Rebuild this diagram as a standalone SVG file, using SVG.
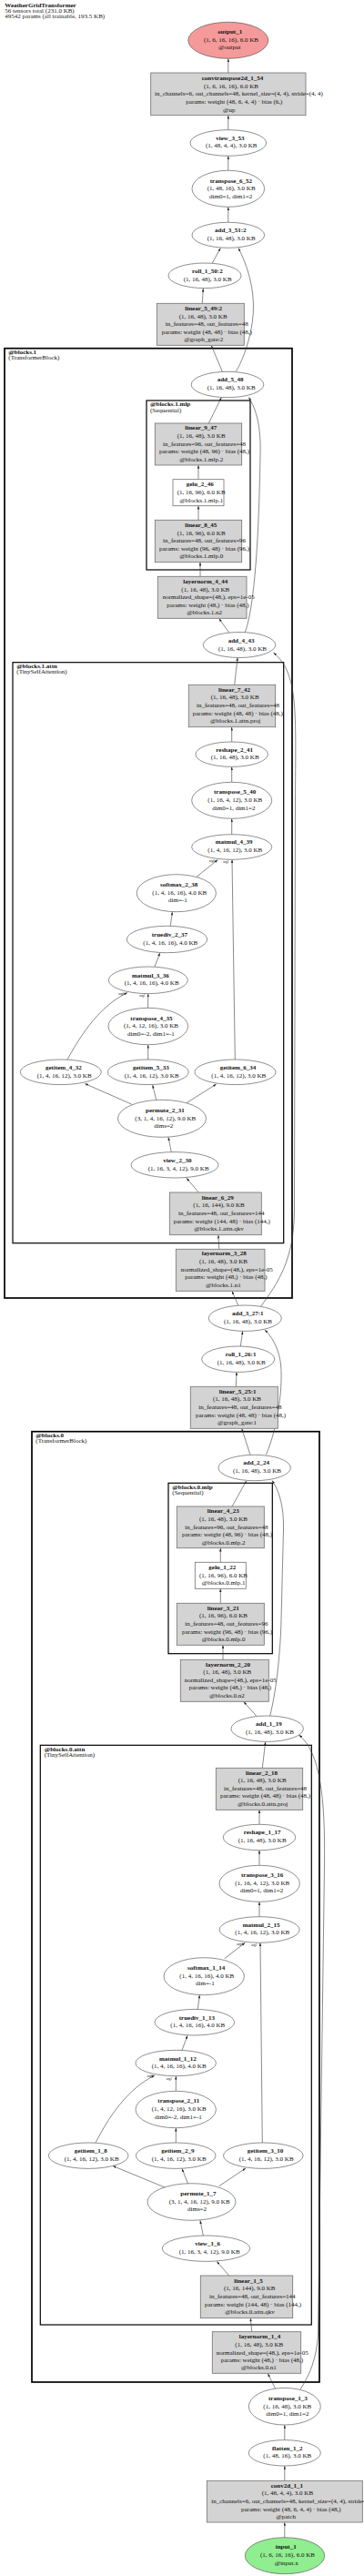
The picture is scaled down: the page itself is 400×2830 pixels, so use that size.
<svg xmlns="http://www.w3.org/2000/svg" width="400" height="2830" viewBox="0 0 400 2830">
<style>
text{font-family:"Liberation Serif","Times New Roman",serif;font-size:7px;fill:#111;dominant-baseline:central}
.b{font-weight:bold}
.h{fill:#222}
.el{fill:#fff;stroke:#444;stroke-width:0.6}
.rc{fill:#d3d3d3;stroke:#707070;stroke-width:0.8}
.rw{fill:#fff;stroke:#707070;stroke-width:0.8}
.c1{fill:none;stroke:#000;stroke-width:1.7}
.c2{fill:none;stroke:#000;stroke-width:1.2}
.e{fill:none;stroke:#3a3a3a;stroke-width:0.6;marker-end:url(#ah)}
.al{font-size:3.6px;text-anchor:middle}
</style>
<defs>
<marker id="ah" markerUnits="userSpaceOnUse" markerWidth="4" markerHeight="3" refX="3.6" refY="1.2" orient="auto">
<path d="M0,0 L3.6,1.2 L0,2.4 z" fill="#222"/>
</marker>
</defs>
<rect width="400" height="2830" fill="#fff"/>
<g id="title">
<text class="b" x="5.3" y="5.8">WeatherGridTransformer</text>
<text class="h" x="5.3" y="11.9">56 tensors total (231.0 KB)</text>
<text class="h" x="5.3" y="18">49542 params (all trainable, 193.5 KB)</text>
</g>
<g id="clusters">
<g id="cluster_blocks1"><rect class="c1" x="5" y="382.7" width="316" height="1043.3"/><text class="b" x="9.3" y="387.3">@blocks.1</text><text x="9.3" y="393.3">(TransformerBlock)</text></g>
<g id="cluster_blocks1_mlp"><rect class="c2" x="161" y="440" width="114" height="186"/><text class="b" x="165" y="444.3">@blocks.1.mlp</text><text x="165" y="450.5">(Sequential)</text></g>
<g id="cluster_blocks1_attn"><rect class="c2" x="14" y="727.7" width="297.7" height="638"/><text class="b" x="18.3" y="731.8">@blocks.1.attn</text><text x="18.3" y="738">(TinySelfAttention)</text></g>
<g id="cluster_blocks0"><rect class="c1" x="35" y="1572.7" width="316" height="1044.3"/><text class="b" x="39.3" y="1576.8">@blocks.0</text><text x="39.3" y="1583">(TransformerBlock)</text></g>
<g id="cluster_blocks0_mlp"><rect class="c2" x="185" y="1629.3" width="114.3" height="187.4"/><text class="b" x="189.3" y="1634.2">@blocks.0.mlp</text><text x="189.3" y="1640.3">(Sequential)</text></g>
<g id="cluster_blocks0_attn"><rect class="c2" x="44.3" y="1917.3" width="298" height="636.7"/><text class="b" x="48.7" y="1921.7">@blocks.0.attn</text><text x="48.7" y="1927.8">(TinySelfAttention)</text></g>
</g>
<g id="edges">
<path class="e" d="M250.8,80 L250.8,64.5"/>
<path class="e" d="M250.8,142.7 L250.8,126.9"/>
<path class="e" d="M250.8,187.3 L250.8,171.5"/>
<path class="e" d="M250.8,244.3 L250.8,227.5"/>
<path class="e" d="M233.3,289 L242.3,272.5"/>
<path class="e" d="M259.5,408 C270,390 279,360 278.5,335 C278,310 270,288 262,272.6"/>
<path class="e" d="M222.3,333.3 L223.3,317"/>
<path class="e" d="M244.3,408.2 L232.3,379.7"/>
<path class="e" d="M229.3,465 L243.3,436.8"/>
<path class="e" d="M269.3,694.8 C282,660 285,560 286,500 C287,470 282,450 273.3,436.5"/>
<path class="e" d="M218,526.7 L218,511.2"/>
<path class="e" d="M218,571.3 L218,555.9"/>
<path class="e" d="M220,633.3 L220,617.9"/>
<path class="e" d="M251.7,694.8 L240.7,679.5"/>
<path class="e" d="M257.7,752.3 L261,722.6"/>
<path class="e" d="M286.7,1435 C305,1410 323,1385 323.5,1330 L324.5,880 C325,780 328,740 300.5,717"/>
<path class="e" d="M254.7,815 L254.7,798.9"/>
<path class="e" d="M254.7,859.3 L254.7,842.5"/>
<path class="e" d="M254.7,916.7 L254.7,899.5"/>
<path class="e" d="M216,963.3 L239.3,944.5"/>
<path class="e" d="M258.3,1164 L255,944.5"/>
<path class="e" d="M187.3,1017.3 L189.3,1001.9"/>
<path class="e" d="M170,1062 L175.7,1046.9"/>
<path class="e" d="M74,1164 C90,1135 110,1105 140,1090.5"/>
<path class="e" d="M162.7,1107.3 L162.7,1091.8"/>
<path class="e" d="M162.7,1164 L162.7,1147.9"/>
<path class="e" d="M145,1213.3 L93.3,1190.5"/>
<path class="e" d="M171.7,1208.3 L167.7,1192"/>
<path class="e" d="M205,1211.7 L237.7,1191"/>
<path class="e" d="M188.3,1265.7 L185,1249.5"/>
<path class="e" d="M218.3,1310 L205,1294.2"/>
<path class="e" d="M240.7,1372.3 L240,1356.9"/>
<path class="e" d="M261.7,1434 L255,1418.5"/>
<path class="e" d="M264.3,1479 L266.7,1462.6"/>
<path class="e" d="M292.3,1598.3 C305,1570 312,1520 308,1495 C305,1478 298,1468 291,1461"/>
<path class="e" d="M259.3,1523.3 L260,1507.6"/>
<path class="e" d="M275,1598.3 L265.7,1569.5"/>
<path class="e" d="M255,1655 L270.7,1627"/>
<path class="e" d="M296.7,1885 C303,1860 308,1820 309,1780 L311.5,1680 C312,1655 307,1638 299,1626.5"/>
<path class="e" d="M242.3,1716.3 L242.3,1700.9"/>
<path class="e" d="M242.3,1761.3 L242.3,1745.5"/>
<path class="e" d="M245,1823.3 L245,1807.5"/>
<path class="e" d="M281.7,1885 L267.7,1869.5"/>
<path class="e" d="M288.3,1942.3 L291.7,1913.6"/>
<path class="e" d="M330,2625 C341,2608 348,2590 349.5,2565 L356.5,2050 C357.5,1975 352,1925 328.5,1906"/>
<path class="e" d="M285,2004.3 L285,1988.5"/>
<path class="e" d="M285,2049.3 L285,2032.9"/>
<path class="e" d="M285,2105.7 L285,2089.5"/>
<path class="e" d="M246.7,2151.7 L269.3,2134.3"/>
<path class="e" d="M288.3,2354 L286,2134.4"/>
<path class="e" d="M217.3,2207.3 L219.3,2191.9"/>
<path class="e" d="M200,2252.3 L206,2236.3"/>
<path class="e" d="M105,2354 C120,2325 140,2295 170,2280"/>
<path class="e" d="M193.3,2297.3 L193.3,2280.9"/>
<path class="e" d="M193.3,2354 L193.3,2337.9"/>
<path class="e" d="M181.7,2403.3 L124,2379.5"/>
<path class="e" d="M206.7,2399.3 L200,2382.5"/>
<path class="e" d="M240.7,2401.7 L270,2382"/>
<path class="e" d="M223.3,2456 L220,2439.5"/>
<path class="e" d="M251.7,2500 L238.3,2484.5"/>
<path class="e" d="M276.7,2561.7 L275.3,2546.9"/>
<path class="e" d="M302.7,2624.3 L294.3,2607.7"/>
<path class="e" d="M312.8,2680.7 L312.8,2664.2"/>
<path class="e" d="M312.8,2725.3 L312.8,2709.2"/>
<path class="e" d="M312.8,2787.7 L312.8,2771.2"/>
<text class="al" x="233" y="945.8">arg0</text>
<text class="al" x="248.5" y="946.8">arg1</text>
<text class="al" x="133.5" y="1092">arg0</text>
<text class="al" x="156.5" y="1093.5">arg1</text>
<text class="al" x="263.5" y="2136">arg0</text>
<text class="al" x="279.5" y="2137">arg1</text>
<text class="al" x="165" y="2281">arg0</text>
<text class="al" x="186" y="2283.5">arg1</text>
</g>
<g id="output_1"><ellipse class="el" cx="250.8" cy="44.3" rx="44" ry="20" style="fill:#f59a9a"/><text class="b" x="239.3" y="35">output_1</text><text x="224" y="43.7">(1, 6, 16, 16), 6.0 KB</text><text x="240" y="52.3">@output</text></g>
<g id="convtranspose2d_1_54"><rect class="rc" x="165.7" y="80" width="170.3" height="46.7"/><text class="b" x="221.7" y="86">convtranspose2d_1_54</text><text x="224" y="94.7">(1, 6, 16, 16), 6.0 KB</text><text x="170" y="103.3">in_channels=6, out_channels=48, kernel_size=(4, 4), stride=(4, 4)</text><text x="204.3" y="112">params: weight (48, 6, 4, 4) · bias (6,)</text><text x="245" y="120.7">@up</text></g>
<g id="view_3_53"><ellipse class="el" cx="250.8" cy="157" rx="41.8" ry="14.3"/><text class="b" x="237.3" y="151.7">view_3_53</text><text x="226" y="160.3">(1, 48, 4, 4), 3.0 KB</text></g>
<g id="transpose_6_52"><ellipse class="el" cx="250.8" cy="207.3" rx="39.8" ry="20"/><text class="b" x="230.7" y="198.7">transpose_6_52</text><text x="227.7" y="207.3">(1, 48, 16), 3.0 KB</text><text x="230" y="216">dim0=1, dim1=2</text></g>
<g id="add_3_51_2"><ellipse class="el" cx="250.8" cy="258.3" rx="39.8" ry="14"/><text class="b" x="236" y="253.3">add_3_51:2</text><text x="227.7" y="262">(1, 16, 48), 3.0 KB</text></g>
<g id="roll_1_50_2"><ellipse class="el" cx="225" cy="302.8" rx="40" ry="13.8"/><text class="b" x="211" y="298.3">roll_1_50:2</text><text x="201.7" y="307">(1, 16, 48), 3.0 KB</text></g>
<g id="linear_5_49_2"><rect class="rc" x="172.3" y="333.3" width="96" height="46"/><text class="b" x="203.3" y="339">linear_5_49:2</text><text x="196.7" y="347.7">(1, 16, 48), 3.0 KB</text><text x="181.7" y="356.3">in_features=48, out_features=48</text><text x="177.7" y="365">params: weight (48, 48) · bias (48,)</text><text x="202.3" y="373.3">@graph_gate:2</text></g>
<g id="add_5_48"><ellipse class="el" cx="250" cy="422.5" rx="39.8" ry="14.2"/><text class="b" x="238.7" y="417.3">add_5_48</text><text x="227.7" y="426">(1, 16, 48), 3.0 KB</text></g>
<g id="linear_9_47"><rect class="rc" x="170.3" y="465" width="95.4" height="46"/><text class="b" x="203.3" y="470.3">linear_9_47</text><text x="194.7" y="479">(1, 16, 48), 3.0 KB</text><text x="179" y="487.7">in_features=96, out_features=48</text><text x="175" y="496">params: weight (48, 96) · bias (48,)</text><text x="197.3" y="504.7">@blocks.1.mlp.2</text></g>
<g id="gelu_2_46"><rect class="rw" x="190" y="526.7" width="56" height="29"/><text class="b" x="204.7" y="532.3">gelu_2_46</text><text x="194.7" y="541">(1, 16, 96), 6.0 KB</text><text x="197.3" y="549.7">@blocks.1.mlp.1</text></g>
<g id="linear_8_45"><rect class="rc" x="170.3" y="571.3" width="95.4" height="46.4"/><text class="b" x="203.3" y="577">linear_8_45</text><text x="194.7" y="585.7">(1, 16, 96), 6.0 KB</text><text x="179" y="594.3">in_features=48, out_features=96</text><text x="175" y="602.7">params: weight (96, 48) · bias (96,)</text><text x="197.3" y="611.3">@blocks.1.mlp.0</text></g>
<g id="layernorm_4_44"><rect class="rc" x="173.3" y="633.3" width="97.7" height="46"/><text class="b" x="201.3" y="639">layernorm_4_44</text><text x="199.3" y="647.7">(1, 16, 48), 3.0 KB</text><text x="178.7" y="656">normalized_shape=(48,), eps=1e-05</text><text x="183.3" y="664.7">params: weight (48,) · bias (48,)</text><text x="205.3" y="673">@blocks.1.n2</text></g>
<g id="add_4_43"><ellipse class="el" cx="263" cy="708.5" rx="39.7" ry="14"/><text class="b" x="250.7" y="704.2">add_4_43</text><text x="240" y="712.8">(1, 16, 48), 3.0 KB</text></g>
<g id="linear_7_42"><rect class="rc" x="207.3" y="752.3" width="95.4" height="46.4"/><text class="b" x="240" y="757.7">linear_7_42</text><text x="231.7" y="766.3">(1, 16, 48), 3.0 KB</text><text x="216" y="775">in_features=48, out_features=48</text><text x="211.7" y="783.7">params: weight (48, 48) · bias (48,)</text><text x="231" y="792">@blocks.1.attn.proj</text></g>
<g id="reshape_2_41"><ellipse class="el" cx="254.7" cy="828.7" rx="39.7" ry="13.7"/><text class="b" x="237.3" y="823.7">reshape_2_41</text><text x="231.7" y="832.3">(1, 16, 48), 3.0 KB</text></g>
<g id="transpose_5_40"><ellipse class="el" cx="254.7" cy="879.3" rx="44" ry="20"/><text class="b" x="235" y="870.3">transpose_5_40</text><text x="228.3" y="879">(1, 16, 4, 12), 3.0 KB</text><text x="233.3" y="887.7">dim0=1, dim1=2</text></g>
<g id="matmul_4_39"><ellipse class="el" cx="254.7" cy="930.5" rx="44" ry="13.8"/><text class="b" x="236.7" y="925">matmul_4_39</text><text x="228.3" y="933.7">(1, 4, 16, 12), 3.0 KB</text></g>
<g id="softmax_2_38"><ellipse class="el" cx="193.8" cy="981.2" rx="43.6" ry="20.5"/><text class="b" x="176" y="972">softmax_2_38</text><text x="167.3" y="980.7">(1, 4, 16, 16), 4.0 KB</text><text x="185" y="989.3">dim=-1</text></g>
<g id="truediv_2_37"><ellipse class="el" cx="183.5" cy="1032" rx="44.2" ry="14.7"/><text class="b" x="166.7" y="1026.7">truediv_2_37</text><text x="157.3" y="1035.7">(1, 4, 16, 16), 4.0 KB</text></g>
<g id="matmul_3_36"><ellipse class="el" cx="162.8" cy="1076.8" rx="43.5" ry="14.8"/><text class="b" x="145" y="1071.7">matmul_3_36</text><text x="136.7" y="1080.3">(1, 4, 16, 16), 4.0 KB</text></g>
<g id="transpose_4_35"><ellipse class="el" cx="162.8" cy="1127.5" rx="43.8" ry="20.2"/><text class="b" x="143.3" y="1118.7">transpose_4_35</text><text x="136" y="1127.3">(1, 4, 12, 16), 3.0 KB</text><text x="140" y="1135.7">dim0=-2, dim1=-1</text></g>
<g id="getitem_4_32"><ellipse class="el" cx="66.8" cy="1177.8" rx="44.5" ry="13.8"/><text class="b" x="50" y="1173.3">getitem_4_32</text><text x="40.7" y="1181.7">(1, 4, 16, 12), 3.0 KB</text></g>
<g id="getitem_5_33"><ellipse class="el" cx="162.8" cy="1177.8" rx="44.5" ry="13.8"/><text class="b" x="146" y="1173.3">getitem_5_33</text><text x="136.7" y="1181.7">(1, 4, 16, 12), 3.0 KB</text></g>
<g id="getitem_6_34"><ellipse class="el" cx="258.5" cy="1177.8" rx="44.5" ry="13.8"/><text class="b" x="241.7" y="1173.3">getitem_6_34</text><text x="232.3" y="1181.7">(1, 4, 16, 12), 3.0 KB</text></g>
<g id="permute_2_31"><ellipse class="el" cx="178" cy="1228.8" rx="48.5" ry="20.5"/><text class="b" x="160" y="1220.3">permute_2_31</text><text x="148.3" y="1229">(3, 1, 4, 16, 12), 9.0 KB</text><text x="169.3" y="1237.3">dims=2</text></g>
<g id="view_2_30"><ellipse class="el" cx="192" cy="1279.8" rx="48" ry="14.2"/><text class="b" x="179.3" y="1275">view_2_30</text><text x="162.7" y="1283.7">(1, 16, 3, 4, 12), 9.0 KB</text></g>
<g id="linear_6_29"><rect class="rc" x="186.3" y="1310" width="101" height="46.7"/><text class="b" x="221.7" y="1315.7">linear_6_29</text><text x="212.3" y="1324.3">(1, 16, 144), 9.0 KB</text><text x="196" y="1333">in_features=48, out_features=144</text><text x="190.7" y="1341.7">params: weight (144, 48) · bias (144,)</text><text x="213.3" y="1350">@blocks.1.attn.qkv</text></g>
<g id="layernorm_3_28"><rect class="rc" x="193.3" y="1372.3" width="97.7" height="46"/><text class="b" x="221.7" y="1377.3">layernorm_3_28</text><text x="219" y="1386">(1, 16, 48), 3.0 KB</text><text x="198.7" y="1394.7">normalized_shape=(48,), eps=1e-05</text><text x="203.3" y="1403.3">params: weight (48,) · bias (48,)</text><text x="226" y="1411.7">@blocks.1.n1</text></g>
<g id="add_3_27_1"><ellipse class="el" cx="269.3" cy="1448.2" rx="40" ry="14.2"/><text class="b" x="255" y="1443.3">add_3_27:1</text><text x="246" y="1452">(1, 16, 48), 3.0 KB</text></g>
<g id="roll_1_26_1"><ellipse class="el" cx="261.7" cy="1493.2" rx="40" ry="14.2"/><text class="b" x="247.7" y="1488">roll_1_26:1</text><text x="238.7" y="1496.7">(1, 16, 48), 3.0 KB</text></g>
<g id="linear_5_25_1"><rect class="rc" x="209.3" y="1523.3" width="96" height="46"/><text class="b" x="240.7" y="1528.7">linear_5_25:1</text><text x="234" y="1537.3">(1, 16, 48), 3.0 KB</text><text x="218.3" y="1546">in_features=48, out_features=48</text><text x="215" y="1554.7">params: weight (48, 48) · bias (48,)</text><text x="239" y="1563.3">@graph_gate:1</text></g>
<g id="add_2_24"><ellipse class="el" cx="279.7" cy="1612.5" rx="39.7" ry="14.2"/><text class="b" x="267.3" y="1607">add_2_24</text><text x="256" y="1615.7">(1, 16, 48), 3.0 KB</text></g>
<g id="linear_4_23"><rect class="rc" x="194.3" y="1655" width="96" height="45.7"/><text class="b" x="227.7" y="1660.3">linear_4_23</text><text x="219" y="1669">(1, 16, 48), 3.0 KB</text><text x="203.3" y="1677.7">in_features=96, out_features=48</text><text x="200" y="1686.3">params: weight (48, 96) · bias (48,)</text><text x="221.7" y="1694.7">@blocks.0.mlp.2</text></g>
<g id="gelu_1_22"><rect class="rw" x="214.3" y="1716.3" width="56" height="29"/><text class="b" x="229.3" y="1722">gelu_1_22</text><text x="219" y="1730.7">(1, 16, 96), 6.0 KB</text><text x="221.7" y="1739.3">@blocks.0.mlp.1</text></g>
<g id="linear_3_21"><rect class="rc" x="194.3" y="1761.3" width="96" height="46"/><text class="b" x="227.7" y="1766.7">linear_3_21</text><text x="219" y="1775.3">(1, 16, 96), 6.0 KB</text><text x="203.3" y="1784">in_features=48, out_features=96</text><text x="200" y="1792.7">params: weight (96, 48) · bias (96,)</text><text x="221.7" y="1801">@blocks.0.mlp.0</text></g>
<g id="layernorm_2_20"><rect class="rc" x="198.3" y="1823.3" width="97" height="46"/><text class="b" x="226" y="1828.7">layernorm_2_20</text><text x="223.3" y="1837.3">(1, 16, 48), 3.0 KB</text><text x="202.7" y="1846">normalized_shape=(48,), eps=1e-05</text><text x="207.7" y="1854.3">params: weight (48,) · bias (48,)</text><text x="230" y="1863">@blocks.0.n2</text></g>
<g id="add_1_19"><ellipse class="el" cx="293.7" cy="1899.2" rx="39.7" ry="14.2"/><text class="b" x="281" y="1894.3">add_1_19</text><text x="270" y="1903">(1, 16, 48), 3.0 KB</text></g>
<g id="linear_2_18"><rect class="rc" x="237.3" y="1942.3" width="95.4" height="46"/><text class="b" x="270" y="1947.7">linear_2_18</text><text x="261.7" y="1956.3">(1, 16, 48), 3.0 KB</text><text x="246" y="1965">in_features=48, out_features=48</text><text x="242" y="1973.3">params: weight (48, 48) · bias (48,)</text><text x="261" y="1982">@blocks.0.attn.proj</text></g>
<g id="reshape_1_17"><ellipse class="el" cx="285" cy="2018.5" rx="39.7" ry="14.2"/><text class="b" x="267.7" y="2013.3">reshape_1_17</text><text x="261.7" y="2022">(1, 16, 48), 3.0 KB</text></g>
<g id="transpose_3_16"><ellipse class="el" cx="285.2" cy="2069.3" rx="44.2" ry="20"/><text class="b" x="265" y="2060.3">transpose_3_16</text><text x="258.3" y="2069">(1, 16, 4, 12), 3.0 KB</text><text x="264" y="2077.3">dim0=1, dim1=2</text></g>
<g id="matmul_2_15"><ellipse class="el" cx="285.2" cy="2120" rx="44" ry="14.3"/><text class="b" x="266.7" y="2115">matmul_2_15</text><text x="258.3" y="2123.3">(1, 4, 16, 12), 3.0 KB</text></g>
<g id="softmax_1_14"><ellipse class="el" cx="224.2" cy="2171.2" rx="44.2" ry="20.5"/><text class="b" x="206" y="2162">softmax_1_14</text><text x="197.3" y="2170.7">(1, 4, 16, 16), 4.0 KB</text><text x="215" y="2179">dim=-1</text></g>
<g id="truediv_1_13"><ellipse class="el" cx="213.8" cy="2221.7" rx="43.8" ry="14.3"/><text class="b" x="196.7" y="2216.7">truediv_1_13</text><text x="187.3" y="2225.3">(1, 4, 16, 16), 4.0 KB</text></g>
<g id="matmul_1_12"><ellipse class="el" cx="193.2" cy="2266.5" rx="44.2" ry="14.2"/><text class="b" x="175" y="2261.7">matmul_1_12</text><text x="166.7" y="2270.3">(1, 4, 16, 16), 4.0 KB</text></g>
<g id="transpose_2_11"><ellipse class="el" cx="193.2" cy="2317.5" rx="44.2" ry="20.2"/><text class="b" x="173.3" y="2308.3">transpose_2_11</text><text x="166.7" y="2317">(1, 4, 12, 16), 3.0 KB</text><text x="170" y="2325.7">dim0=-2, dim1=-1</text></g>
<g id="getitem_1_8"><ellipse class="el" cx="97.2" cy="2368.2" rx="43.8" ry="14.2"/><text class="b" x="81.7" y="2363.3">getitem_1_8</text><text x="70.7" y="2372">(1, 4, 16, 12), 3.0 KB</text></g>
<g id="getitem_2_9"><ellipse class="el" cx="193.2" cy="2368.2" rx="43.8" ry="14.2"/><text class="b" x="177.3" y="2363.3">getitem_2_9</text><text x="166.7" y="2372">(1, 4, 16, 12), 3.0 KB</text></g>
<g id="getitem_3_10"><ellipse class="el" cx="289.3" cy="2368.2" rx="43.8" ry="14.2"/><text class="b" x="271.7" y="2363.3">getitem_3_10</text><text x="262.7" y="2372">(1, 4, 16, 12), 3.0 KB</text></g>
<g id="permute_1_7"><ellipse class="el" cx="210.5" cy="2419" rx="48.5" ry="20.3"/><text class="b" x="198.3" y="2410.3">permute_1_7</text><text x="185.7" y="2419">(3, 1, 4, 16, 12), 9.0 KB</text><text x="206" y="2427.3">dims=2</text></g>
<g id="view_1_6"><ellipse class="el" cx="226.5" cy="2470.2" rx="48.2" ry="14.2"/><text class="b" x="214.3" y="2465">view_1_6</text><text x="196.7" y="2473.7">(1, 16, 3, 4, 12), 9.0 KB</text></g>
<g id="linear_1_5"><rect class="rc" x="220.3" y="2500" width="101.4" height="46.7"/><text class="b" x="257.3" y="2505.7">linear_1_5</text><text x="246" y="2514.3">(1, 16, 144), 9.0 KB</text><text x="230" y="2523">in_features=48, out_features=144</text><text x="225" y="2531.7">params: weight (144, 48) · bias (144,)</text><text x="247.3" y="2540">@blocks.0.attn.qkv</text></g>
<g id="layernorm_1_4"><rect class="rc" x="233.3" y="2561.7" width="97.4" height="45.6"/><text class="b" x="262.7" y="2567.3">layernorm_1_4</text><text x="258.3" y="2576">(1, 16, 48), 3.0 KB</text><text x="237.7" y="2584.7">normalized_shape=(48,), eps=1e-05</text><text x="242.7" y="2592.9">params: weight (48,) · bias (48,)</text><text x="265" y="2601.3">@blocks.0.n1</text></g>
<g id="transpose_1_3"><ellipse class="el" cx="312.8" cy="2643.7" rx="39.5" ry="20.3"/><text class="b" x="295" y="2635">transpose_1_3</text><text x="289.3" y="2643.7">(1, 16, 48), 3.0 KB</text><text x="292.3" y="2652.3">dim0=1, dim1=2</text></g>
<g id="flatten_1_2"><ellipse class="el" cx="312.8" cy="2694.8" rx="39.5" ry="14.2"/><text class="b" x="299" y="2689.7">flatten_1_2</text><text x="289.3" y="2698.3">(1, 48, 16), 3.0 KB</text></g>
<g id="conv2d_1_1"><rect class="rc" x="227.3" y="2725.3" width="171" height="45.7"/><text class="b" x="297.7" y="2730.7">conv2d_1_1</text><text x="287.7" y="2739.3">(1, 48, 4, 4), 3.0 KB</text><text x="232.3" y="2748">in_channels=6, out_channels=48, kernel_size=(4, 4), stride=(4, 4)</text><text x="265" y="2756.7">params: weight (48, 6, 4, 4) · bias (48,)</text><text x="303.3" y="2765">@patch</text></g>
<g id="input_1"><ellipse class="el" cx="313" cy="2807.7" rx="43.7" ry="20" style="fill:#90ee90"/><text class="b" x="302.7" y="2798.3">input_1</text><text x="286" y="2807">(1, 6, 16, 16), 6.0 KB</text><text x="301.7" y="2815.7">@input.x</text></g>
</svg>
